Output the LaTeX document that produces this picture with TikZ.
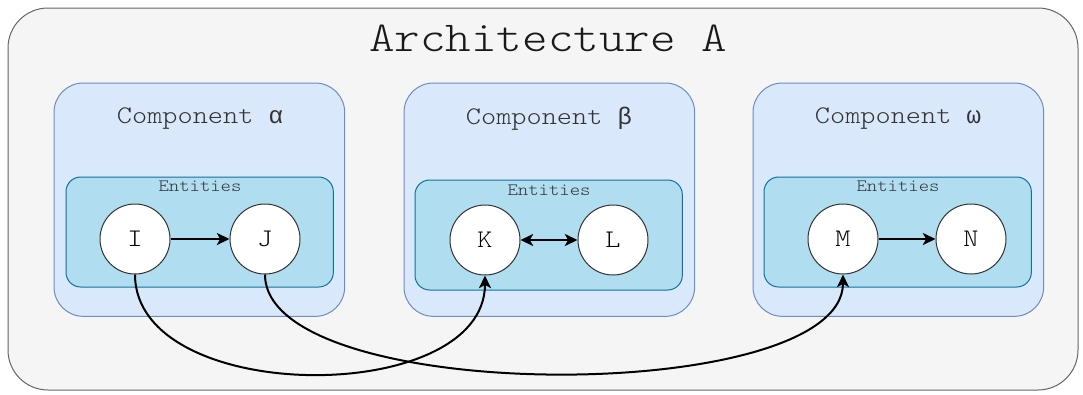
\documentclass[tikz,border=0pt]{standalone}
\usepackage{fontspec}
\newfontfamily\monofont[FakeStretch=1.14]{Latin Modern Mono Light}
\newfontfamily\greekfont{Liberation Mono}
\usetikzlibrary{arrows, arrows.meta}
\usetikzlibrary{calc}

\definecolor{archfill}{HTML}{F5F5F5}
\definecolor{archline}{HTML}{666666}
\definecolor{compfill}{HTML}{DAE8FC}
\definecolor{compline}{HTML}{6C8EBF}
\definecolor{entfill}{HTML}{B1DDF0}
\definecolor{entline}{HTML}{10739E}
\definecolor{labeltext}{HTML}{333333}

\begin{document}
\begin{tikzpicture}[x=0.75pt, y=-0.75pt,
    box/.style={anchor=north west, inner sep=0pt, outer sep=0pt, line width=0.75pt},
    archbox/.style={box, draw=archline, fill=archfill, rounded corners=30pt,
      minimum width=802.5pt, minimum height=286.5pt},
    compbox/.style={box, draw=compline, fill=compfill, rounded corners=22pt,
      minimum width=218pt, minimum height=175pt},
    entbox/.style={box, draw=entline, fill=entfill, rounded corners=11pt,
      minimum width=200.5pt, minimum height=82.5pt},
    complabel/.style={text=labeltext, font=\monofont\fontsize{19}{19}\selectfont},
    entlabel/.style={text=labeltext, font=\monofont\fontsize{13}{13}\selectfont},
    entity/.style={circle, draw=black!80, fill=white, line width=0.75pt,
      inner sep=0pt, minimum size=52.5pt, font=\monofont\fontsize{19}{19}\selectfont},
    tip/.tip={Stealth[length=9.5pt, width=9pt, inset=2.5pt]},
    link/.style={line width=1.5pt, -tip}
  ]
    \useasboundingbox (0,0) rectangle (1083,394);

    \node[archbox] (arch) at (8,8) {};
    \node[font=\monofont\fontsize{32}{32}\selectfont, text=black!90] (archname) at (548,38) {Architecture A};

    \node[compbox] (compA) at (54,83) {};
    \node[compbox] (compB) at (404,83) {};
    \node[compbox] (compC) at (753,83) {};
    \node[complabel] (compAname) at (200,119) {Component {\greekfont\fontsize{18}{18}\selectfont α}};
    \node[complabel] (compBname) at (549,119) {Component {\greekfont\fontsize{18}{18}\selectfont β}};
    \node[complabel] (compCname) at (898,119) {Component {\greekfont\fontsize{18}{18}\selectfont ω}};

    \node[entbox] (entA) at (66,177) {};
    \node[entbox] (entB) at (415,180) {};
    \node[entbox] (entC) at (764,177) {};
    \node[entlabel] (entAname) at (200,186) {Entities};
    \node[entlabel] (entBname) at (549,190) {Entities};
    \node[entlabel] (entCname) at (898,186) {Entities};

    \node[entity] (I) at (135,239) {I};
    \node[entity] (J) at (265,239) {J};
    \node[entity] (K) at (485,240) {K};
    \node[entity] (L) at (613,240) {L};
    \node[entity] (M) at (843,239) {M};
    \node[entity] (N) at (971,239) {N};

    \draw[link] (I) -- (J);
    \draw[link, tip-tip] (K) -- (L);
    \draw[link] (M) -- (N);

    \draw[link] (I.south) .. controls +(0,132) and +(0,132) .. (K.south);
    \draw[link] (J.south) .. controls +(0,132) and +(0,132) .. (M.south);
  \end{tikzpicture}
\end{document}
